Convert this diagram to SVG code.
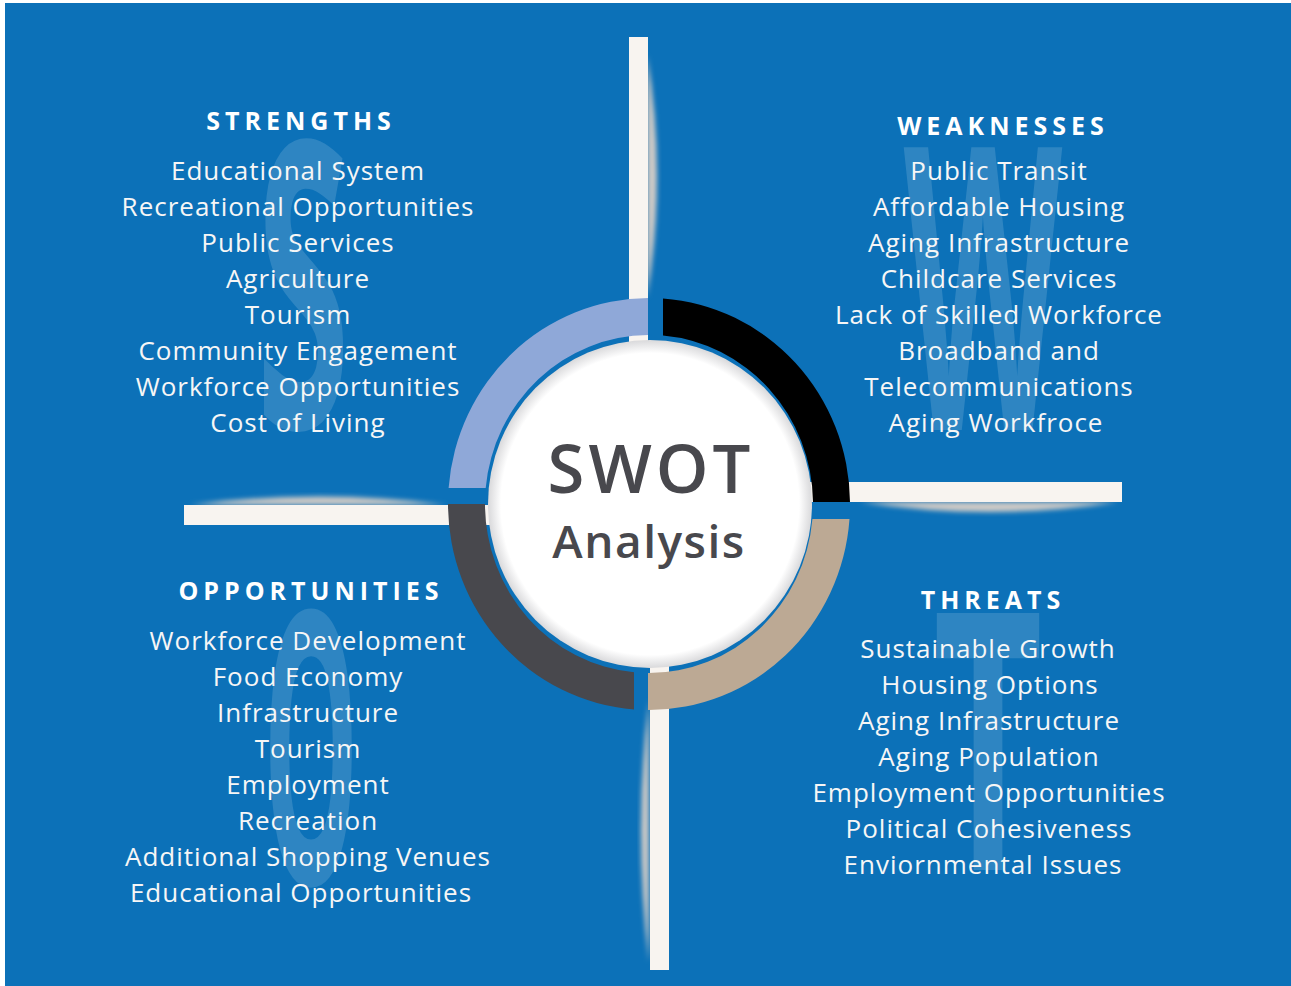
<svg xmlns="http://www.w3.org/2000/svg" width="1291" height="986" viewBox="0 0 1291 986">
  <defs>
    <style>
      .bg { fill: #0C71B8; }
      .bar { fill: #F8F4F0; }
      .barshade { fill: #CFCAC6; filter: url(#soft); }
      .ghost { font-family: "Open Sans", "Liberation Sans", sans-serif; font-weight: 700; font-size: 200px; fill: #FFFFFF; fill-opacity: 0.14; text-anchor: middle; }
      .head { font-family: "Open Sans", "Liberation Sans", sans-serif; font-weight: 700; font-size: 25px; letter-spacing: 5px; fill: #FFFFFF; text-anchor: middle; }
      .item { font-family: "Open Sans", "Liberation Sans", sans-serif; font-weight: 400; font-size: 26px; letter-spacing: 1px; fill: #F6F6F6; text-anchor: middle; }
      .title { font-family: "Open Sans", "Liberation Sans", sans-serif; font-weight: 600; fill: #48484D; text-anchor: middle; }
    </style>
    <filter id="soft" x="-50%" y="-50%" width="200%" height="200%">
      <feGaussianBlur stdDeviation="2.5"/>
    </filter>
    <radialGradient id="disc" cx="0.5" cy="0.5" r="0.5">
      <stop offset="0" stop-color="#FFFFFF"/>
      <stop offset="0.92" stop-color="#FFFFFF"/>
      <stop offset="1" stop-color="#D9D9DB"/>
    </radialGradient>
  </defs>

  <!-- backdrop -->
  <rect class="bg" x="5" y="3" width="1286" height="983"/>

  <!-- large faint initials behind each list -->
  <g id="initials">
    <text class="ghost" transform="translate(303 428) scale(0.85 2.0)">S</text>
    <text class="ghost" transform="translate(983 430) scale(0.82 1.98)">W</text>
    <text class="ghost" transform="translate(311 884) scale(0.6 1.9)">O</text>
    <text class="ghost" transform="translate(988 870) scale(0.95 1.8)">T</text>
  </g>

  <!-- cross bars dividing the four quadrants -->
  <g id="connectors">
    <path class="barshade" d="M647 55 Q667 175 647 298 Z"/>
    <path class="barshade" d="M860 502 Q990 522 1118 502 Z"/>
    <path class="barshade" d="M649 700 Q633 830 649 962 Z"/>
    <path class="barshade" d="M190 505 Q320 488 446 505 Z"/>
    <rect class="bar" x="629" y="37" width="19" height="400"/>
    <rect class="bar" x="650" y="565" width="19" height="405"/>
    <rect class="bar" x="184" y="505" width="400" height="20"/>
    <rect class="bar" x="720" y="482" width="402" height="20"/>
  </g>

  <!-- central hub -->
  <g id="hub">
    <path id="arc-s" fill="#8FA8D8" d="M448.6 488 A201 206 0 0 1 648 298 L648 335 A164 169 0 0 0 485.7 488 Z"/>
    <path id="arc-w" fill="#000000" d="M663 298.5 A201 206 0 0 1 850 502 L813 502 A164 169 0 0 0 663 335.6 Z"/>
    <path id="arc-t" fill="#BCA994" d="M849.5 519 A201 206 0 0 1 648 710 L648 673 A164 169 0 0 0 812.4 519 Z"/>
    <path id="arc-o" fill="#48484D" d="M448 504 L485 504 A164 169 0 0 0 634 672.3 L634 709.4 A201 206 0 0 1 448 504 Z"/>
    <ellipse cx="650" cy="504" rx="162" ry="164" fill="url(#disc)"/>
    <text class="title" x="651" y="493" font-size="67" letter-spacing="4">SWOT</text>
    <text class="title" x="649" y="558" font-size="46" letter-spacing="1.5">Analysis</text>
  </g>

  <g id="strengths">
    <text class="head" x="301" y="130">STRENGTHS</text>
    <text class="item" x="298" y="180">Educational System</text>
    <text class="item" x="298" y="216">Recreational Opportunities</text>
    <text class="item" x="298" y="252">Public Services</text>
    <text class="item" x="298" y="288">Agriculture</text>
    <text class="item" x="298" y="324">Tourism</text>
    <text class="item" x="298" y="360">Community Engagement</text>
    <text class="item" x="298" y="396">Workforce Opportunities</text>
    <text class="item" x="298" y="432">Cost of Living</text>
  </g>

  <g id="weaknesses">
    <text class="head" x="1003" y="135">WEAKNESSES</text>
    <text class="item" x="999" y="180">Public Transit</text>
    <text class="item" x="999" y="216">Affordable Housing</text>
    <text class="item" x="999" y="252">Aging Infrastructure</text>
    <text class="item" x="999" y="288">Childcare Services</text>
    <text class="item" x="999" y="324">Lack of Skilled Workforce</text>
    <text class="item" x="999" y="360">Broadband and</text>
    <text class="item" x="999" y="396">Telecommunications</text>
    <text class="item" x="996" y="432">Aging Workfroce</text>
  </g>

  <g id="opportunities">
    <text class="head" x="311" y="600">OPPORTUNITIES</text>
    <text class="item" x="308" y="650">Workforce Development</text>
    <text class="item" x="308" y="686">Food Economy</text>
    <text class="item" x="308" y="722">Infrastructure</text>
    <text class="item" x="308" y="758">Tourism</text>
    <text class="item" x="308" y="794">Employment</text>
    <text class="item" x="308" y="830">Recreation</text>
    <text class="item" x="308" y="866">Additional Shopping Venues</text>
    <text class="item" x="301" y="902">Educational Opportunities</text>
  </g>

  <g id="threats">
    <text class="head" x="993" y="609">THREATS</text>
    <text class="item" x="988" y="658">Sustainable Growth</text>
    <text class="item" x="990" y="694">Housing Options</text>
    <text class="item" x="989" y="730">Aging Infrastructure</text>
    <text class="item" x="989" y="766">Aging Population</text>
    <text class="item" x="989" y="802">Employment Opportunities</text>
    <text class="item" x="989" y="838">Political Cohesiveness</text>
    <text class="item" x="983" y="874">Enviornmental Issues</text>
  </g>
</svg>
